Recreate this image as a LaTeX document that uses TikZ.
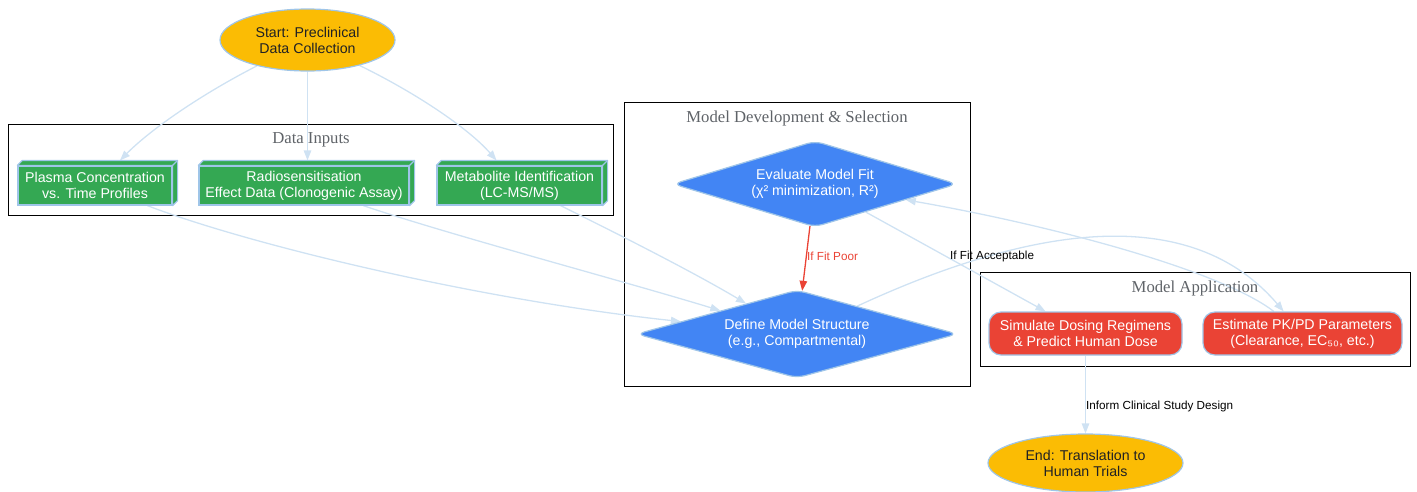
\documentclass[tikz,border=0pt]{standalone}
\usepackage{fontspec}
\setmainfont{Liberation Sans}
\newfontfamily\titlefont{Liberation Serif}
\usetikzlibrary{shapes.geometric,arrows.meta}
\definecolor{gyellow}{HTML}{FBBC04}
\definecolor{ggreen}{HTML}{34A853}
\definecolor{gblue}{HTML}{4285F4}
\definecolor{gred}{HTML}{EA4335}
\definecolor{edgeblue}{HTML}{CFE2F3}
\definecolor{nodeborder}{HTML}{9FC5E8}
\definecolor{textdark}{HTML}{202124}
\definecolor{titlegray}{HTML}{5F6368}
\pgfdeclarelayer{bg}
\pgfdeclarelayer{edges}
\pgfsetlayers{bg,edges,main}
\begin{document}
\begin{tikzpicture}[x=1pt,y=-1pt,
  nodefont/.style={font=\fontsize{14.2}{16}\selectfont},
  basenode/.style={nodefont, draw=nodeborder, line width=1.2pt, inner sep=0pt, align=center},
  ellnode/.style={basenode, ellipse, fill=gyellow, text=textdark},
  boxnode/.style={basenode, rectangle, fill=ggreen, text=white, minimum height=39pt},
  boxface/.style={draw=nodeborder, line width=1.2pt, fill=ggreen, line join=round},
  dianode/.style={basenode, diamond, fill=gblue, text=white, rounded corners=8pt, aspect=3.4},
  rednode/.style={basenode, rectangle, rounded corners=12pt, fill=gred, text=white, minimum height=43pt},
  clusterbox/.style={draw=black, line width=1pt},
  clustertitle/.style={font=\titlefont\fontsize{16.7}{18}\selectfont, text=titlegray, inner sep=0pt},
  edge/.style={draw=edgeblue, line width=1.3pt, -{Triangle[length=10pt,width=7.5pt]}},
  redge/.style={draw=gred, line width=1.3pt, -{Triangle[length=10pt,width=7.5pt]}},
  elabel/.style={font=\fontsize{11.7}{13}\selectfont, inner sep=0pt, anchor=west}
]
\useasboundingbox (0,0) rectangle (1417,491);

% clusters
\begin{pgfonlayer}{bg}
  \draw[clusterbox] (8,124) rectangle (613,215);
  \draw[clusterbox] (624,102) rectangle (970,386);
  \draw[clusterbox] (980,272) rectangle (1410,366);
\end{pgfonlayer}
\node[clustertitle] (tData) at (311,140) {Data Inputs};
\node[clustertitle] (tDev) at (797,118) {Model Development \& Selection};
\node[clustertitle] (tApp) at (1195,288) {Model Application};

% nodes
\node[ellnode, minimum width=175pt, minimum height=62pt] (start) at (307.5,40) {Start: Preclinical\\Data Collection};
\node[boxnode, minimum width=154pt] (plasma) at (95,185.5) {Plasma Concentration\\vs. Time Profiles};
\node[boxnode, minimum width=210pt] (radio) at (304,185.5) {Radiosensitisation\\Effect Data (Clonogenic Assay)};
\node[boxnode, minimum width=165pt] (metab) at (519.5,185.5) {Metabolite Identification\\(LC-MS/MS)};
\foreach \n in {plasma,radio,metab}{
  \filldraw[boxface] (\n.north west) -- ++(5,-5) -- ([shift={(5,-5)}]\n.north east) -- ([shift={(5,-5)}]\n.south east) -- (\n.south east) -- (\n.north east) -- cycle;
  \draw[draw=nodeborder, line width=1.2pt] (\n.north east) -- ++(5,-5);
}
\node[dianode, minimum width=284pt, minimum height=86pt] (evaluate) at (815,184) {Evaluate Model Fit\\(χ² minimization, R²)};
\node[dianode, minimum width=321pt, minimum height=88pt] (define) at (797,334) {Define Model Structure\\(e.g., Compartmental)};
\node[rednode, minimum width=193pt] (simulate) at (1085.5,333.5) {Simulate Dosing Regimens\\\& Predict Human Dose};
\node[rednode, minimum width=199pt] (estimate) at (1302.5,333.5) {Estimate PK/PD Parameters\\(Clearance, EC₅₀, etc.)};
\node[ellnode, minimum width=195pt, minimum height=58pt] (end) at (1085.5,463) {End: Translation to\\Human Trials};

% edges
\begin{pgfonlayer}{edges}
  \draw[edge] (start) .. controls (200,95) and (150,130) .. ([shift={(25pt,5pt)}]plasma.north);
  \draw[edge] (start) -- ([yshift=5pt]start |- radio.north);
  \draw[edge] (start) .. controls (420,95) and (470,130) .. ([shift={(-23pt,5pt)}]metab.north);
  \draw[edge] (plasma) .. controls (250,245) and (480,300) .. (define);
  \draw[edge] (radio) .. controls (450,235) and (620,280) .. (define);
  \draw[edge] (metab) .. controls (600,225) and (690,270) .. (define);
  \draw[edge] (evaluate) -- (simulate);
  \draw[edge] (define) .. controls (1000,240) and (1180,190) .. (estimate);
  \draw[edge] (estimate) .. controls (1220,270) and (1050,225) .. (evaluate);
  \draw[edge] (simulate) -- (end);
\end{pgfonlayer}
\draw[redge] (evaluate) -- (define);

% edge labels
\node[elabel, text=gred] (lPoor) at (807,256) {If Fit Poor};
\node[elabel, text=black] (lAcc) at (950,256) {If Fit Acceptable};
\node[elabel, text=black] (lInform) at (1086,406) {Inform Clinical Study Design};
\end{tikzpicture}
\end{document}
